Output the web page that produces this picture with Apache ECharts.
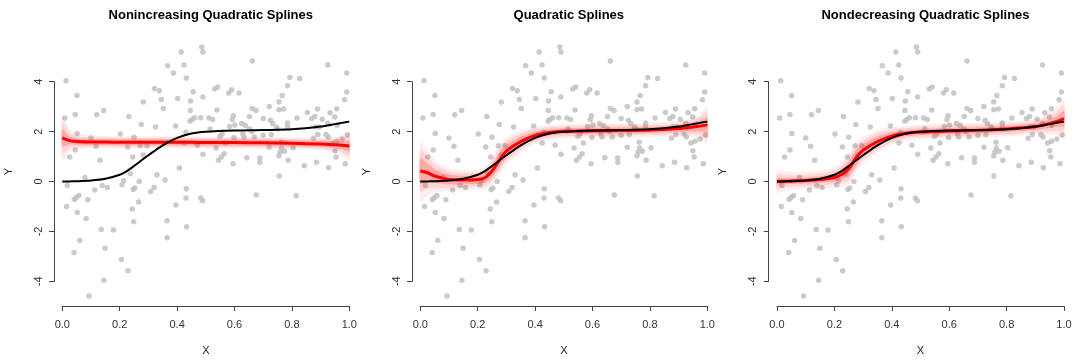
<!DOCTYPE html>
<html>
<head>
<meta charset="utf-8">
<script src="https://cdn.jsdelivr.net/npm/echarts@6/dist/echarts.min.js"></script>
<style>
  html, body { margin: 0; padding: 0; background: #fff; }
  #chart { width: 1082px; height: 361px; }
</style>
</head>
<body>
<div id="chart"></div>
<script>
// Panel titles
const panelTitles = ['Nonincreasing Quadratic Splines', 'Quadratic Splines', 'Nondecreasing Quadratic Splines'];

// Common evaluation grid on X
const xGrid = [0, 0.025, 0.05, 0.1, 0.15, 0.2, 0.225, 0.25, 0.275, 0.3, 0.35, 0.4, 0.45, 0.5, 0.6, 0.7, 0.8, 0.9, 0.95, 0.975, 1.0];

// True regression function (black)
const trueCurve = [0.0, 0.005, 0.01, 0.04, 0.11, 0.27, 0.42, 0.62, 0.84, 1.05, 1.45, 1.75, 1.92, 1.99, 2.04, 2.06, 2.09, 2.2, 2.3, 2.35, 2.4];

// Posterior mean fits (red)
const fitNonincreasing = [1.75, 1.64, 1.6, 1.58, 1.58, 1.57, 1.57, 1.57, 1.57, 1.57, 1.57, 1.57, 1.57, 1.56, 1.56, 1.55, 1.53, 1.5, 1.47, 1.45, 1.42];
const fitUnconstrained = [0.42, 0.35, 0.22, 0.08, 0.06, 0.08, 0.15, 0.42, 0.85, 1.22, 1.6, 1.85, 1.96, 2.01, 2.03, 2.04, 2.06, 2.12, 2.18, 2.22, 2.27];
const fitNondecreasing = [0.0, 0.01, 0.02, 0.04, 0.08, 0.16, 0.28, 0.5, 0.95, 1.25, 1.6, 1.82, 1.93, 1.98, 2.02, 2.05, 2.1, 2.2, 2.32, 2.41, 2.52];

// Posterior draw spread: half-widths of the dense core and of the faint outer fan
const coreNonincreasing = [0.35, 0.16, 0.13, 0.12, 0.12, 0.12, 0.12, 0.12, 0.12, 0.12, 0.12, 0.12, 0.12, 0.12, 0.12, 0.12, 0.12, 0.12, 0.14, 0.16, 0.2];
const fanNonincreasing  = [0.9, 0.45, 0.32, 0.25, 0.24, 0.24, 0.24, 0.24, 0.24, 0.24, 0.24, 0.24, 0.24, 0.24, 0.24, 0.24, 0.24, 0.26, 0.32, 0.42, 0.6];
const coreUnconstrained = [0.5, 0.38, 0.27, 0.2, 0.17, 0.17, 0.2, 0.25, 0.28, 0.25, 0.2, 0.15, 0.12, 0.12, 0.12, 0.12, 0.12, 0.13, 0.18, 0.22, 0.3];
const fanUnconstrained  = [1.2, 0.9, 0.65, 0.45, 0.4, 0.4, 0.47, 0.55, 0.6, 0.55, 0.45, 0.35, 0.3, 0.28, 0.28, 0.28, 0.28, 0.3, 0.4, 0.5, 0.75];
const coreNondecreasing = [0.12, 0.12, 0.12, 0.12, 0.13, 0.15, 0.2, 0.3, 0.3, 0.25, 0.2, 0.15, 0.12, 0.12, 0.12, 0.12, 0.12, 0.13, 0.18, 0.22, 0.3];
const fanNondecreasing  = [0.45, 0.4, 0.35, 0.35, 0.37, 0.4, 0.5, 0.6, 0.6, 0.55, 0.45, 0.35, 0.3, 0.3, 0.3, 0.3, 0.3, 0.3, 0.45, 0.55, 0.75];

// Observed data (gray points), shared by all panels
const obsX = [
  0.414, 0.486, 0.490, 0.367, 0.424, 0.387, 0.432, 0.013, 0.321, 0.338, 0.456, 0.051, 0.345, 0.402, 0.447, 0.490,
  0.282, 0.352, 0.446, 0.144, 0.120, 0.045, 0.232, 0.009, 0.461, 0.482, 0.445, 0.452, 0.275, 0.325, 0.395, 0.431,
  0.052, 0.202, 0.100, 0.250, 0.117, 0.228, 0.272, 0.295, 0.045, 0.026, 0.131, 0.245, 0.282, 0.408, 0.490, 0.425,
  0.470,
  0.662, 0.925, 0.991, 0.793, 0.827, 0.785, 0.531, 0.541, 0.590, 0.580, 0.616, 0.991, 0.766, 0.755, 0.983, 0.721,
  0.662, 0.675, 0.755, 0.771, 0.956, 0.933, 0.854, 0.889, 0.539, 0.596, 0.592, 0.652, 0.700, 0.818, 0.869, 0.880,
  0.906, 0.511, 0.524, 0.949, 0.725, 0.733, 0.785, 0.785, 0.625, 0.638, 0.583, 0.601, 0.746, 0.751, 0.882, 0.895,
  0.925, 0.957, 0.515, 0.652, 0.660, 0.557, 0.549, 0.629, 0.633, 0.669, 0.728, 0.890, 0.919, 0.927, 0.994, 0.875,
  0.957, 0.700, 0.598, 0.536, 0.721, 0.764, 0.759, 0.774, 0.804, 0.564, 0.554, 0.544, 0.643, 0.688, 0.688, 0.755,
  0.787, 0.886, 0.950, 0.954, 0.595, 0.843, 0.928, 0.986, 0.568, 0.763, 0.975, 0.943,
  0.079, 0.017, 0.139, 0.157, 0.113, 0.208, 0.214, 0.237, 0.268, 0.253, 0.247, 0.320, 0.308, 0.330, 0.358, 0.432,
  0.431, 0.396, 0.482, 0.489, 0.058, 0.049, 0.042, 0.089, 0.015, 0.052, 0.083, 0.266, 0.244, 0.249, 0.365, 0.433,
  0.136, 0.178, 0.365, 0.061, 0.149, 0.041, 0.206, 0.229, 0.145, 0.093,
  0.756, 0.676, 0.815
];
const obsY = [
  5.19, 5.39, 5.19, 4.64, 4.67, 4.35, 4.15, 4.04, 3.73, 3.64, 3.60, 3.45, 3.29, 3.33, 3.23, 3.39,
  3.19, 2.93, 2.85, 2.85, 2.68, 2.69, 2.61, 2.55, 2.56, 2.56, 2.41, 2.48, 2.28, 2.18, 2.22, 1.97,
  1.92, 1.90, 1.74, 1.77, 1.41, 1.38, 1.43, 1.43, 1.26, 0.98, 0.85, 0.98, 1.06, 0.54, 1.09, 1.54,
  1.45,
  4.83, 4.67, 4.35, 4.17, 4.13, 3.84, 3.71, 3.79, 3.68, 3.55, 3.55, 3.59, 3.45, 3.19, 3.28, 3.01,
  2.93, 2.85, 2.88, 2.91, 2.92, 2.76, 2.77, 2.91, 2.87, 2.64, 2.48, 2.61, 2.53, 2.55, 2.53, 2.61,
  2.50, 2.55, 2.48, 2.59, 2.45, 2.32, 2.34, 2.18, 2.32, 2.24, 2.20, 2.26, 2.18, 2.10, 2.18, 2.18,
  2.33, 2.25, 2.10, 2.10, 2.00, 1.90, 1.81, 1.90, 1.78, 1.78, 1.88, 1.88, 1.88, 1.78, 1.86, 1.73,
  1.61, 1.85, 1.76, 1.34, 1.37, 1.34, 1.18, 1.21, 1.35, 1.11, 0.98, 0.85, 0.95, 0.94, 0.77, 1.03,
  0.85, 0.77, 1.23, 0.98, 0.71, 0.63, 0.55, 0.71, 1.54, 1.57, 1.70, 1.54,
  0.16, -0.16, -0.16, -0.24, -0.34, -0.13, 0.04, 0.31, 0.00, -0.26, -0.32, -0.24, -0.40, 0.27, 0.06, -0.29,
  -0.66, -0.94, -0.66, -0.77, -0.56, -0.64, -0.72, -0.73, -1.00, -1.24, -1.48, -0.82, -1.10, -1.61, -1.57, -1.81,
  -1.92, -1.94, -2.25, -2.36, -2.68, -2.85, -3.13, -3.58, -3.96, -4.59,
  0.22, -0.54, -0.57
];

// Axis tick labels
const xTickLabels = ['0.0', '0.2', '0.4', '0.6', '0.8', '1.0'];
const yTicks = [-4, -2, 0, 2, 4];

const panels = [
  { title: panelTitles[0], fit: fitNonincreasing, core: coreNonincreasing, fan: fanNonincreasing },
  { title: panelTitles[1], fit: fitUnconstrained, core: coreUnconstrained, fan: fanUnconstrained },
  { title: panelTitles[2], fit: fitNondecreasing, core: coreNondecreasing, fan: fanNondecreasing }
];

// Layout of the three plot regions (pixel positions of x = 0 and width of the unit interval)
const panelLeft = [62.3, 420.3, 777];
const plotWidth = 287;
const plotTop = 81.7;       // y = 4
const plotHeight = 199.6;   // y from 4 down to -4

const font = 'Liberation Sans, Arial, Helvetica, sans-serif';
const axisColor = '#444';

const pairs = (xs, ys) => xs.map((x, i) => [x, ys[i]]);

// Closed band between fit - hw and fit + hw, drawn through the axis scales
function bandSeries(i, fit, hw, color) {
  return {
    type: 'custom', xAxisIndex: i, yAxisIndex: i, z: 2, silent: true,
    data: [[0.5, fit[0]]],
    renderItem: (params, api) => {
      const upper = xGrid.map((x, k) => api.coord([x, fit[k] + hw[k]]));
      const lower = xGrid.map((x, k) => api.coord([x, fit[k] - hw[k]])).reverse();
      return {
        type: 'polygon',
        shape: { points: upper.concat(lower), smooth: 0.25 },
        style: { fill: color, stroke: null }
      };
    }
  };
}

const option = {
  animation: false,
  backgroundColor: '#fff',
  title: panels.map((p, i) => ({
    text: p.title,
    left: panelLeft[i] + plotWidth / 2,
    top: 4,
    textAlign: 'center',
    textStyle: { fontFamily: font, fontSize: 13, fontWeight: 'bold', color: '#000' }
  })),
  grid: panels.map((p, i) => ({
    left: panelLeft[i], top: plotTop, width: plotWidth, height: plotHeight,
    outerBoundsMode: 'none'
  })),
  xAxis: panels.map((p, i) => ({
    type: 'value', gridIndex: i, min: 0, max: 1, interval: 0.2,
    offset: 24.7,
    name: 'X', nameLocation: 'middle', nameGap: 39,
    nameTextStyle: { fontFamily: font, fontSize: 11, color: '#222' },
    axisLine: { show: true, onZero: false, lineStyle: { color: axisColor, width: 1 } },
    axisTick: { show: true, inside: false, length: 5, lineStyle: { color: axisColor } },
    axisLabel: {
      margin: 13, fontFamily: font, fontSize: 11, color: '#333',
      formatter: v => xTickLabels[Math.round(v / 0.2)]
    },
    splitLine: { show: false }
  })),
  yAxis: panels.map((p, i) => ({
    type: 'value', gridIndex: i, min: -4, max: 4, interval: 2,
    offset: 8.3,
    name: 'Y', nameLocation: 'middle', nameGap: 40, nameRotate: 90,
    nameTextStyle: { fontFamily: font, fontSize: 11, color: '#222', padding: [0, 0, 0, 20] },
    axisLine: { show: true, onZero: false, lineStyle: { color: axisColor, width: 1 } },
    axisTick: { show: true, inside: false, length: 5, lineStyle: { color: axisColor } },
    axisLabel: {
      margin: 10, rotate: 90, fontFamily: font, fontSize: 11, color: '#333',
      formatter: v => (yTicks.indexOf(v) >= 0 ? String(v) : '')
    },
    splitLine: { show: false }
  })),
  series: []
};

panels.forEach((p, i) => {
  // data points
  option.series.push({
    type: 'scatter', xAxisIndex: i, yAxisIndex: i, z: 1,
    symbol: 'circle', symbolSize: 5.5, clip: false, silent: true,
    itemStyle: { color: '#BEBEBE' },
    data: pairs(obsX, obsY)
  });
  // posterior draws: faint fan, intermediate, dense core
  const mid = p.fan.map((w, k) => (w + p.core[k]) / 2);
  option.series.push(bandSeries(i, p.fit, p.fan, 'rgba(255,0,0,0.07)'));
  option.series.push(bandSeries(i, p.fit, mid, 'rgba(255,0,0,0.10)'));
  option.series.push(bandSeries(i, p.fit, p.core, 'rgba(255,0,0,0.20)'));
  // posterior mean fit
  option.series.push({
    type: 'line', xAxisIndex: i, yAxisIndex: i, z: 3,
    smooth: 0.3, symbol: 'none', silent: true,
    lineStyle: { color: '#FF0000', width: 3 },
    data: pairs(xGrid, p.fit)
  });
  // true function
  option.series.push({
    type: 'line', xAxisIndex: i, yAxisIndex: i, z: 4,
    smooth: 0.3, symbol: 'none', silent: true,
    lineStyle: { color: '#000000', width: 2 },
    data: pairs(xGrid, trueCurve)
  });
});

const chart = echarts.init(document.getElementById('chart'), null, { renderer: 'canvas' });
chart.setOption(option);
</script>
</body>
</html>
